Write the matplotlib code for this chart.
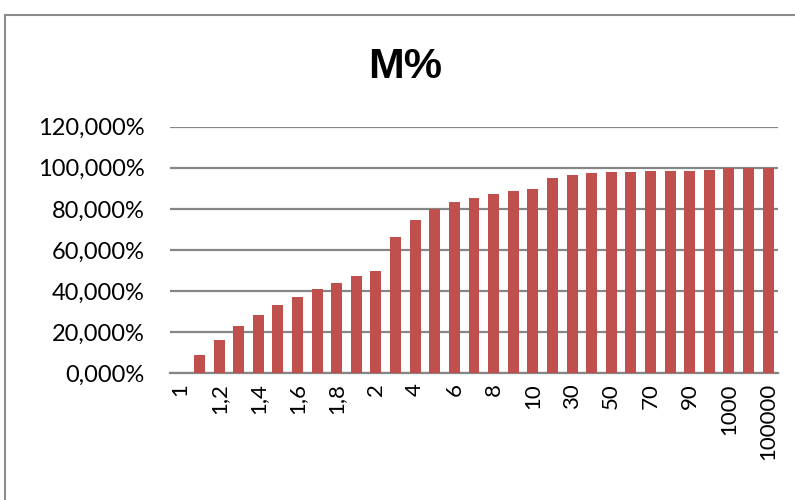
import matplotlib.pyplot as plt
from matplotlib.patches import Rectangle
from matplotlib.ticker import FuncFormatter, MultipleLocator

# Categories (x-axis labels, Excel decimal comma)
categories = ["1", "1,1", "1,2", "1,3", "1,4", "1,5", "1,6", "1,7", "1,8", "1,9",
              "2", "3", "4", "5", "6", "7", "8", "9", "10",
              "20", "30", "40", "50", "60", "70", "80", "90", "100",
              "1000", "10000", "100000"]

# M% values
m_pct = [0.0, 8.8, 16.4, 22.9, 28.2, 33.1, 37.1, 40.9, 44.1, 47.2,
         49.6, 66.3, 74.7, 80.0, 83.2, 85.4, 87.3, 88.7, 89.7,
         94.9, 96.4, 97.3, 97.8, 98.1, 98.3, 98.5, 98.6, 98.8,
         100.0, 100.0, 100.0]

tick_font = "Lato"
bar_color = "#C0504D"
grid_color = "#868686"

fig = plt.figure(figsize=(7.95, 5.0), dpi=100)
ax = fig.add_axes([170 / 795, 1 - 373.3 / 500, 608 / 795, 246.6 / 500])

x = list(range(len(categories)))
ax.bar(x, m_pct, width=0.56, color=bar_color, zorder=3)

ax.set_xlim(-0.5, len(categories) - 0.5)
ax.set_ylim(0, 120)
ax.yaxis.set_major_locator(MultipleLocator(20))
ax.yaxis.set_major_formatter(FuncFormatter(lambda v, p: f"{v:.3f}%".replace(".", ",")))
ax.grid(axis="y", color=grid_color, linewidth=1.6, zorder=0)

ax.set_xticks(x[::2])
ax.set_xticklabels(categories[::2], rotation=90, va="top", ha="center")

for s in ["top", "right", "left"]:
    ax.spines[s].set_visible(False)
ax.spines["bottom"].set_color(grid_color)
ax.spines["bottom"].set_linewidth(1.6)
ax.tick_params(axis="both", length=0)
ax.tick_params(axis="x", pad=7, labelsize=16)
ax.tick_params(axis="y", pad=18, labelsize=17)
for lab in ax.get_xticklabels() + ax.get_yticklabels():
    lab.set_fontfamily(tick_font)

fig.text(405 / 795, 1 - 67 / 500, "M%", ha="center", va="center",
         fontsize=31, fontweight="bold", family="Liberation Sans")

# chart area border
fig.patches.append(Rectangle((5 / 795, -0.1), 1.2, 1 - 15 / 500 + 0.1,
                             transform=fig.transFigure, fill=False,
                             edgecolor="#8C8C8C", linewidth=1.5))

fig.savefig("out.png", dpi=100)
